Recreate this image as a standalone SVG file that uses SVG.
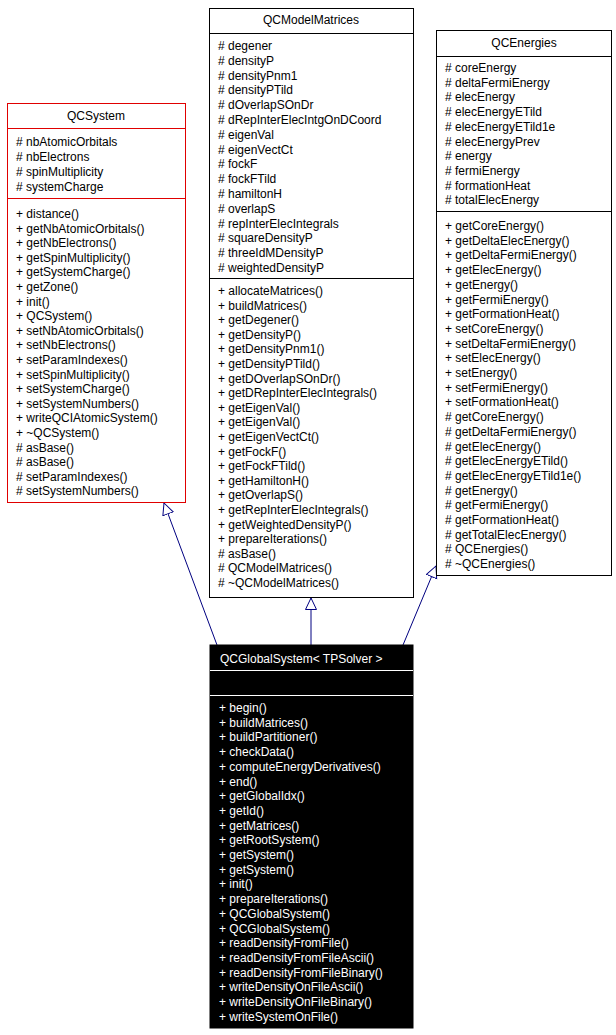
<svg xmlns="http://www.w3.org/2000/svg" width="616" height="1035" viewBox="0 0 616 1035">
<style>
text{font-family:"Liberation Sans",Arial,sans-serif;font-size:12px;fill:#000}
.t{text-anchor:middle}
.w{fill:#fff}
.box{fill:#fff;stroke:#000;stroke-width:1}
.red{fill:#fff;stroke:#e00000;stroke-width:1}
.blk{fill:#000;stroke:#000}
.ln{stroke:#000;stroke-width:1}
.lr{stroke:#e00000;stroke-width:1}
.lw{stroke:#fff;stroke-width:1}
.c{stroke:#000080;stroke-width:1;fill:none}
</style>
<defs><marker id="tri" markerWidth="14" markerHeight="14" refX="12" refY="6" orient="auto" markerUnits="userSpaceOnUse"><path d="M0.5,0.5 L12,6 L0.5,11.5 Z" fill="#fff" stroke="#000080"/></marker></defs>
<g id="connectors">
<line class="c" x1="217" y1="645" x2="164" y2="503" marker-end="url(#tri)"/>
<line class="c" x1="311" y1="645" x2="311" y2="598" marker-end="url(#tri)"/>
<line class="c" x1="403" y1="645" x2="436" y2="566" marker-end="url(#tri)"/>
</g>
<g id="QCSystem">
<rect class="red" x="7.5" y="103.5" width="178" height="399"/>
<line class="lr" x1="7.5" y1="128.5" x2="185.5" y2="128.5"/>
<line class="lr" x1="7.5" y1="198.5" x2="185.5" y2="198.5"/>
<text class="t" x="96" y="120">QCSystem</text>
<text x="16" y="146"># nbAtomicOrbitals</text>
<text x="16" y="161"># nbElectrons</text>
<text x="16" y="176"># spinMultiplicity</text>
<text x="16" y="191"># systemCharge</text>
<text x="16" y="218">+ distance()</text>
<text x="16" y="232.6">+ getNbAtomicOrbitals()</text>
<text x="16" y="247.2">+ getNbElectrons()</text>
<text x="16" y="261.8">+ getSpinMultiplicity()</text>
<text x="16" y="276.4">+ getSystemCharge()</text>
<text x="16" y="291">+ getZone()</text>
<text x="16" y="305.6">+ init()</text>
<text x="16" y="320.2">+ QCSystem()</text>
<text x="16" y="334.8">+ setNbAtomicOrbitals()</text>
<text x="16" y="349.4">+ setNbElectrons()</text>
<text x="16" y="364">+ setParamIndexes()</text>
<text x="16" y="378.6">+ setSpinMultiplicity()</text>
<text x="16" y="393.2">+ setSystemCharge()</text>
<text x="16" y="407.8">+ setSystemNumbers()</text>
<text x="16" y="422.4">+ writeQCIAtomicSystem()</text>
<text x="16" y="437">+ ~QCSystem()</text>
<text x="16" y="451.6"># asBase()</text>
<text x="16" y="466.2"># asBase()</text>
<text x="16" y="480.8"># setParamIndexes()</text>
<text x="16" y="495.4"># setSystemNumbers()</text>
</g>
<g id="QCModelMatrices">
<rect class="box" x="209.5" y="8.5" width="204" height="589"/>
<line class="ln" x1="209.5" y1="33.5" x2="413.5" y2="33.5"/>
<line class="ln" x1="209.5" y1="278.5" x2="413.5" y2="278.5"/>
<text class="t" x="311" y="24">QCModelMatrices</text>
<text x="218" y="50"># degener</text>
<text x="218" y="64.8"># densityP</text>
<text x="218" y="79.6"># densityPnm1</text>
<text x="218" y="94.4"># densityPTild</text>
<text x="218" y="109.2"># dOverlapSOnDr</text>
<text x="218" y="124"># dRepInterElecIntgOnDCoord</text>
<text x="218" y="138.8"># eigenVal</text>
<text x="218" y="153.6"># eigenVectCt</text>
<text x="218" y="168.4"># fockF</text>
<text x="218" y="183.2"># fockFTild</text>
<text x="218" y="198"># hamiltonH</text>
<text x="218" y="212.8"># overlapS</text>
<text x="218" y="227.6"># repInterElecIntegrals</text>
<text x="218" y="242.4"># squareDensityP</text>
<text x="218" y="257.2"># threeIdMDensityP</text>
<text x="218" y="272"># weightedDensityP</text>
<text x="218" y="295">+ allocateMatrices()</text>
<text x="218" y="309.6">+ buildMatrices()</text>
<text x="218" y="324.2">+ getDegener()</text>
<text x="218" y="338.8">+ getDensityP()</text>
<text x="218" y="353.4">+ getDensityPnm1()</text>
<text x="218" y="368">+ getDensityPTild()</text>
<text x="218" y="382.6">+ getDOverlapSOnDr()</text>
<text x="218" y="397.2">+ getDRepInterElecIntegrals()</text>
<text x="218" y="411.8">+ getEigenVal()</text>
<text x="218" y="426.4">+ getEigenVal()</text>
<text x="218" y="441">+ getEigenVectCt()</text>
<text x="218" y="455.6">+ getFockF()</text>
<text x="218" y="470.2">+ getFockFTild()</text>
<text x="218" y="484.8">+ getHamiltonH()</text>
<text x="218" y="499.4">+ getOverlapS()</text>
<text x="218" y="514">+ getRepInterElecIntegrals()</text>
<text x="218" y="528.6">+ getWeightedDensityP()</text>
<text x="218" y="543.2">+ prepareIterations()</text>
<text x="218" y="557.8"># asBase()</text>
<text x="218" y="572.4"># QCModelMatrices()</text>
<text x="218" y="587"># ~QCModelMatrices()</text>
</g>
<g id="QCEnergies">
<rect class="box" x="436.5" y="30.5" width="175" height="545"/>
<line class="ln" x1="436.5" y1="56.5" x2="611.5" y2="56.5"/>
<line class="ln" x1="436.5" y1="211.5" x2="611.5" y2="211.5"/>
<text class="t" x="524" y="47">QCEnergies</text>
<text x="445" y="72"># coreEnergy</text>
<text x="445" y="86.7"># deltaFermiEnergy</text>
<text x="445" y="101.4"># elecEnergy</text>
<text x="445" y="116.1"># elecEnergyETild</text>
<text x="445" y="130.8"># elecEnergyETild1e</text>
<text x="445" y="145.5"># elecEnergyPrev</text>
<text x="445" y="160.2"># energy</text>
<text x="445" y="174.9"># fermiEnergy</text>
<text x="445" y="189.6"># formationHeat</text>
<text x="445" y="204.3"># totalElecEnergy</text>
<text x="445" y="230">+ getCoreEnergy()</text>
<text x="445" y="244.7">+ getDeltaElecEnergy()</text>
<text x="445" y="259.4">+ getDeltaFermiEnergy()</text>
<text x="445" y="274.1">+ getElecEnergy()</text>
<text x="445" y="288.8">+ getEnergy()</text>
<text x="445" y="303.5">+ getFermiEnergy()</text>
<text x="445" y="318.2">+ getFormationHeat()</text>
<text x="445" y="332.9">+ setCoreEnergy()</text>
<text x="445" y="347.6">+ setDeltaFermiEnergy()</text>
<text x="445" y="362.3">+ setElecEnergy()</text>
<text x="445" y="377">+ setEnergy()</text>
<text x="445" y="391.7">+ setFermiEnergy()</text>
<text x="445" y="406.4">+ setFormationHeat()</text>
<text x="445" y="421.1"># getCoreEnergy()</text>
<text x="445" y="435.8"># getDeltaFermiEnergy()</text>
<text x="445" y="450.5"># getElecEnergy()</text>
<text x="445" y="465.2"># getElecEnergyETild()</text>
<text x="445" y="479.9"># getElecEnergyETild1e()</text>
<text x="445" y="494.6"># getEnergy()</text>
<text x="445" y="509.3"># getFermiEnergy()</text>
<text x="445" y="524"># getFormationHeat()</text>
<text x="445" y="538.7"># getTotalElecEnergy()</text>
<text x="445" y="553.4"># QCEnergies()</text>
<text x="445" y="568.1"># ~QCEnergies()</text>
</g>
<g id="QCGlobalSystem">
<rect class="blk" x="210" y="645" width="203" height="383"/>
<line class="lw" x1="210" y1="670.5" x2="413" y2="670.5"/>
<line class="lw" x1="210" y1="695.5" x2="413" y2="695.5"/>
<text class="w" x="220" y="663">QCGlobalSystem&lt; TPSolver &gt;</text>
<text class="w" x="219" y="712">+ begin()</text>
<text class="w" x="219" y="726.7">+ buildMatrices()</text>
<text class="w" x="219" y="741.4">+ buildPartitioner()</text>
<text class="w" x="219" y="756.1">+ checkData()</text>
<text class="w" x="219" y="770.8">+ computeEnergyDerivatives()</text>
<text class="w" x="219" y="785.5">+ end()</text>
<text class="w" x="219" y="800.2">+ getGlobalIdx()</text>
<text class="w" x="219" y="814.9">+ getId()</text>
<text class="w" x="219" y="829.6">+ getMatrices()</text>
<text class="w" x="219" y="844.3">+ getRootSystem()</text>
<text class="w" x="219" y="859">+ getSystem()</text>
<text class="w" x="219" y="873.7">+ getSystem()</text>
<text class="w" x="219" y="888.4">+ init()</text>
<text class="w" x="219" y="903.1">+ prepareIterations()</text>
<text class="w" x="219" y="917.8">+ QCGlobalSystem()</text>
<text class="w" x="219" y="932.5">+ QCGlobalSystem()</text>
<text class="w" x="219" y="947.2">+ readDensityFromFile()</text>
<text class="w" x="219" y="961.9">+ readDensityFromFileAscii()</text>
<text class="w" x="219" y="976.6">+ readDensityFromFileBinary()</text>
<text class="w" x="219" y="991.3">+ writeDensityOnFileAscii()</text>
<text class="w" x="219" y="1006">+ writeDensityOnFileBinary()</text>
<text class="w" x="219" y="1020.7">+ writeSystemOnFile()</text>
</g>
</svg>
